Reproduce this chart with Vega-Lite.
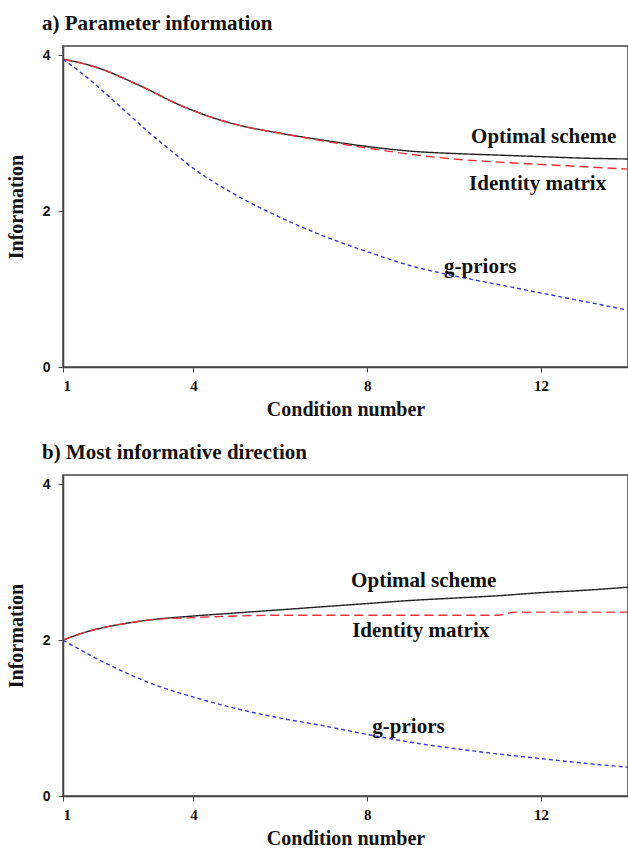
{
  "$schema": "https://vega.github.io/schema/vega-lite/v6.json",
  "padding": {"left": 5, "top": 12, "right": 0, "bottom": 0},
  "background": "white",
  "config": {
    "view": {"stroke": "#444", "strokeWidth": 1.5},
    "axis": {
      "grid": false,
      "domainColor": "#444",
      "domainWidth": 1.5,
      "tickColor": "#444",
      "tickSize": 5,
      "labelFont": "Liberation Serif",
      "labelFontWeight": "bold",
      "labelColor": "#111",
      "titleFont": "Liberation Serif",
      "titleFontWeight": "bold",
      "titleColor": "#111",
      "titleFontSize": 20
    },
    "title": {"font": "Liberation Serif", "fontWeight": "bold", "fontSize": 21, "color": "#111", "anchor": "start"},
    "text": {"font": "Liberation Serif", "fontWeight": "bold", "fontSize": 21, "color": "#111"}
  },
  "datasets": {
    "a": [
      {"series": "Optimal", "x": 1, "y": 3.95}, {"series": "Optimal", "x": 1.5, "y": 3.89}, {"series": "Optimal", "x": 2, "y": 3.8},
      {"series": "Optimal", "x": 2.5, "y": 3.68}, {"series": "Optimal", "x": 3, "y": 3.55}, {"series": "Optimal", "x": 3.5, "y": 3.41},
      {"series": "Optimal", "x": 4, "y": 3.29}, {"series": "Optimal", "x": 4.5, "y": 3.19}, {"series": "Optimal", "x": 5, "y": 3.11},
      {"series": "Optimal", "x": 6, "y": 3.0}, {"series": "Optimal", "x": 7, "y": 2.91}, {"series": "Optimal", "x": 8, "y": 2.83},
      {"series": "Optimal", "x": 9, "y": 2.77}, {"series": "Optimal", "x": 10, "y": 2.74}, {"series": "Optimal", "x": 11, "y": 2.72},
      {"series": "Optimal", "x": 12, "y": 2.7}, {"series": "Optimal", "x": 13, "y": 2.68}, {"series": "Optimal", "x": 14, "y": 2.67},
      {"series": "Identity", "x": 1, "y": 3.95}, {"series": "Identity", "x": 1.5, "y": 3.89}, {"series": "Identity", "x": 2, "y": 3.8},
      {"series": "Identity", "x": 2.5, "y": 3.68}, {"series": "Identity", "x": 3, "y": 3.55}, {"series": "Identity", "x": 3.5, "y": 3.41},
      {"series": "Identity", "x": 4, "y": 3.29}, {"series": "Identity", "x": 4.5, "y": 3.19}, {"series": "Identity", "x": 5, "y": 3.11},
      {"series": "Identity", "x": 6, "y": 3.0}, {"series": "Identity", "x": 7, "y": 2.9}, {"series": "Identity", "x": 8, "y": 2.81},
      {"series": "Identity", "x": 9, "y": 2.73}, {"series": "Identity", "x": 10, "y": 2.67}, {"series": "Identity", "x": 11, "y": 2.63},
      {"series": "Identity", "x": 12, "y": 2.6}, {"series": "Identity", "x": 13, "y": 2.57}, {"series": "Identity", "x": 14, "y": 2.54},
      {"series": "g", "x": 1, "y": 3.95}, {"series": "g", "x": 1.5, "y": 3.74}, {"series": "g", "x": 2, "y": 3.5},
      {"series": "g", "x": 2.5, "y": 3.25}, {"series": "g", "x": 3, "y": 3.0}, {"series": "g", "x": 3.5, "y": 2.77},
      {"series": "g", "x": 4, "y": 2.55}, {"series": "g", "x": 5, "y": 2.2}, {"series": "g", "x": 6, "y": 1.92},
      {"series": "g", "x": 7, "y": 1.68}, {"series": "g", "x": 8, "y": 1.48}, {"series": "g", "x": 9, "y": 1.3},
      {"series": "g", "x": 10, "y": 1.17}, {"series": "g", "x": 11, "y": 1.06}, {"series": "g", "x": 12, "y": 0.95},
      {"series": "g", "x": 13, "y": 0.84}, {"series": "g", "x": 14, "y": 0.73}
    ],
    "b": [
      {"series": "Optimal", "x": 1, "y": 2.0}, {"series": "Optimal", "x": 1.5, "y": 2.1}, {"series": "Optimal", "x": 2, "y": 2.17},
      {"series": "Optimal", "x": 2.5, "y": 2.22}, {"series": "Optimal", "x": 3, "y": 2.26}, {"series": "Optimal", "x": 4, "y": 2.31},
      {"series": "Optimal", "x": 5, "y": 2.35}, {"series": "Optimal", "x": 6, "y": 2.39}, {"series": "Optimal", "x": 7, "y": 2.43},
      {"series": "Optimal", "x": 8, "y": 2.47}, {"series": "Optimal", "x": 9, "y": 2.51}, {"series": "Optimal", "x": 10, "y": 2.54},
      {"series": "Optimal", "x": 11, "y": 2.57}, {"series": "Optimal", "x": 12, "y": 2.61}, {"series": "Optimal", "x": 13, "y": 2.64},
      {"series": "Optimal", "x": 14, "y": 2.68},
      {"series": "Identity", "x": 1, "y": 2.0}, {"series": "Identity", "x": 1.5, "y": 2.1}, {"series": "Identity", "x": 2, "y": 2.17},
      {"series": "Identity", "x": 2.5, "y": 2.22}, {"series": "Identity", "x": 3, "y": 2.26}, {"series": "Identity", "x": 4, "y": 2.29},
      {"series": "Identity", "x": 5, "y": 2.31}, {"series": "Identity", "x": 6, "y": 2.32}, {"series": "Identity", "x": 8, "y": 2.32},
      {"series": "Identity", "x": 10, "y": 2.32}, {"series": "Identity", "x": 11, "y": 2.32}, {"series": "Identity", "x": 11.4, "y": 2.36},
      {"series": "Identity", "x": 12, "y": 2.36}, {"series": "Identity", "x": 14, "y": 2.36},
      {"series": "g", "x": 1, "y": 2.0}, {"series": "g", "x": 2, "y": 1.7}, {"series": "g", "x": 3, "y": 1.45},
      {"series": "g", "x": 4, "y": 1.27}, {"series": "g", "x": 5, "y": 1.12}, {"series": "g", "x": 6, "y": 1.0},
      {"series": "g", "x": 7, "y": 0.9}, {"series": "g", "x": 8, "y": 0.79}, {"series": "g", "x": 9, "y": 0.69},
      {"series": "g", "x": 10, "y": 0.61}, {"series": "g", "x": 11, "y": 0.54}, {"series": "g", "x": 12, "y": 0.48},
      {"series": "g", "x": 13, "y": 0.42}, {"series": "g", "x": 14, "y": 0.37}
    ],
    "labelsA": [
      {"label": "Optimal scheme", "x": 12.06, "y": 2.95},
      {"label": "Identity matrix", "x": 11.92, "y": 2.35},
      {"label": "g-priors", "x": 10.6, "y": 1.28}
    ],
    "labelsB": [
      {"label": "Optimal scheme", "x": 9.3, "y": 2.76},
      {"label": "Identity matrix", "x": 9.23, "y": 2.12},
      {"label": "g-priors", "x": 8.95, "y": 0.88}
    ]
  },
  "spacing": 21,
  "vconcat": [
    {
      "width": 565,
      "height": 321,
      "title": {"text": "a) Parameter information", "frame": "group", "dx": -21, "offset": 12},
      "layer": [
        {
          "data": {"name": "a"},
          "mark": {"type": "line", "strokeWidth": 1.4, "interpolate": "monotone"},
          "encoding": {
            "x": {"field": "x", "type": "quantitative", "scale": {"domain": [1, 14], "nice": false}, "axis": {"values": [1, 4, 8, 12], "title": "Condition number", "labelFontSize": 15, "labelPadding": 6, "titlePadding": 6}},
            "y": {"field": "y", "type": "quantitative", "scale": {"domain": [0, 4.12], "nice": false}, "axis": {"values": [0, 2, 4], "format": "d", "title": "Information", "labelFont": "Liberation Sans", "labelFontSize": 14, "labelPadding": 8, "titlePadding": 16}},
            "color": {"field": "series", "type": "nominal", "scale": {"domain": ["Optimal", "Identity", "g"], "range": ["#222222", "#e8323c", "#3a3ad8"]}, "legend": null},
            "strokeDash": {"field": "series", "type": "nominal", "scale": {"domain": ["Optimal", "Identity", "g"], "range": [[1, 0], [9, 5], [4, 3]]}, "legend": null}
          }
        },
        {
          "data": {"name": "labelsA"},
          "mark": {"type": "text", "align": "center", "baseline": "middle"},
          "encoding": {
            "x": {"field": "x", "type": "quantitative"},
            "y": {"field": "y", "type": "quantitative"},
            "text": {"field": "label"}
          }
        }
      ]
    },
    {
      "width": 565,
      "height": 321,
      "title": {"text": "b) Most informative direction", "frame": "group", "dx": -21, "offset": 12},
      "layer": [
        {
          "data": {"name": "b"},
          "mark": {"type": "line", "strokeWidth": 1.4, "interpolate": "monotone"},
          "encoding": {
            "x": {"field": "x", "type": "quantitative", "scale": {"domain": [1, 14], "nice": false}, "axis": {"values": [1, 4, 8, 12], "title": "Condition number", "labelFontSize": 15, "labelPadding": 6, "titlePadding": 6}},
            "y": {"field": "y", "type": "quantitative", "scale": {"domain": [0, 4.12], "nice": false}, "axis": {"values": [0, 2, 4], "format": "d", "title": "Information", "labelFont": "Liberation Sans", "labelFontSize": 14, "labelPadding": 8, "titlePadding": 16}},
            "color": {"field": "series", "type": "nominal", "scale": {"domain": ["Optimal", "Identity", "g"], "range": ["#222222", "#e8323c", "#3a3ad8"]}, "legend": null},
            "strokeDash": {"field": "series", "type": "nominal", "scale": {"domain": ["Optimal", "Identity", "g"], "range": [[1, 0], [9, 5], [4, 3]]}, "legend": null}
          }
        },
        {
          "data": {"name": "labelsB"},
          "mark": {"type": "text", "align": "center", "baseline": "middle"},
          "encoding": {
            "x": {"field": "x", "type": "quantitative"},
            "y": {"field": "y", "type": "quantitative"},
            "text": {"field": "label"}
          }
        }
      ]
    }
  ]
}
